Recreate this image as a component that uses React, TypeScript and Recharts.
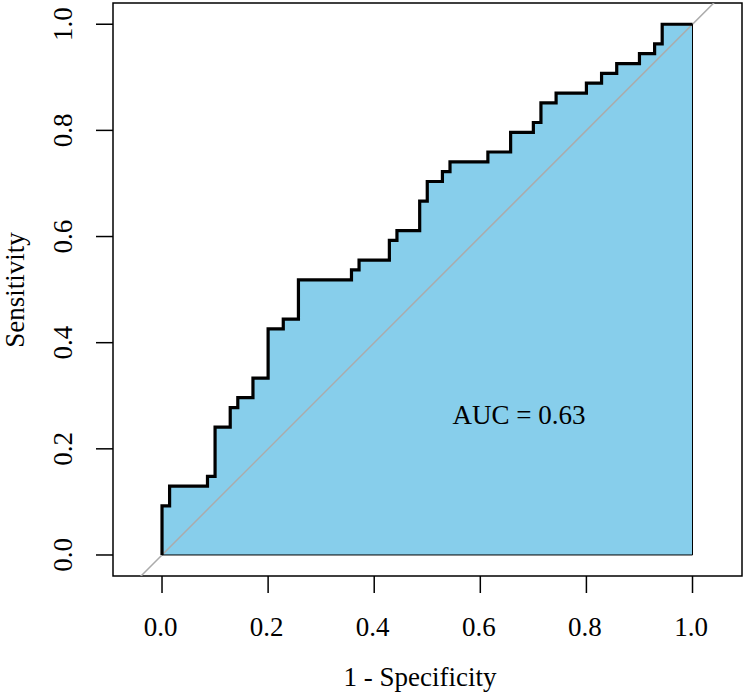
import React from 'react'
import { ComposedChart, Area, Line, XAxis, YAxis, ReferenceLine, ReferenceArea, ReferenceDot } from 'recharts'

// ROC steps, counted in controls (70) and cases (54)
const nControls = 70
const nCases = 54
const fpCount = [0, 0, 1, 6, 7, 9, 10, 12, 14, 16, 18, 25, 26, 30, 31, 34, 35, 37, 38, 43, 46, 49, 50, 52, 56, 58, 60, 63, 65, 66, 70]
const tpCount = [0, 5, 7, 8, 13, 15, 16, 18, 23, 24, 28, 29, 30, 32, 33, 36, 38, 39, 40, 41, 43, 44, 46, 47, 48, 49, 50, 51, 52, 54, 54]

const xTicks = [0, 0.2, 0.4, 0.6, 0.8, 1.0]
const yTicks = [0, 0.2, 0.4, 0.6, 0.8, 1.0]
const xDomain = [-0.0924, 1.0933]
const yDomain = [-0.0396, 1.04]

const aucText = 'AUC = 0.63'
const aucPos = { x: 0.673, y: 0.265 }

const rocData = fpCount.map((fp, i) => ({ fpr: fp / nControls, tpr: tpCount[i] / nCases }))
const last = rocData[rocData.length - 1]
// thin outline of the shaded polygon (right side and bottom)
const borderData = [last, { fpr: last.fpr, tpr: 0 }, rocData[0]]

const FONT = "'Liberation Serif', 'Times New Roman', serif"

const XTick = (props: any) => {
  const { x, payload } = props
  return (
    <text x={x - 1.5} y={636} textAnchor="middle" fontSize={27} fontFamily={FONT} fill="#000">
      {Number(payload.value).toFixed(1)}
    </text>
  )
}

const YTick = (props: any) => {
  const { y, payload } = props
  return (
    <text transform={`translate(72, ${y}) rotate(-90)`} textAnchor="middle" fontSize={27} fontFamily={FONT} fill="#000">
      {Number(payload.value).toFixed(1)}
    </text>
  )
}

const XTitle = () => (
  <text x={420} y={686} textAnchor="middle" fontSize={27} fontFamily={FONT} fill="#000">
    1 - Specificity
  </text>
)

const YTitle = () => (
  <text transform="translate(24, 290) rotate(-90)" textAnchor="middle" fontSize={27} fontFamily={FONT} fill="#000">
    Sensitivity
  </text>
)

export default function App() {
  return (
    <div style={{ position: 'absolute', left: 0, top: 0, width: 744, height: 693, background: '#fff' }}>
      <ComposedChart width={744} height={693} data={rocData} margin={{ top: 3, right: 2, bottom: 0, left: 0 }}>
        <XAxis
          dataKey="fpr"
          type="number"
          domain={xDomain}
          ticks={xTicks}
          interval={0}
          allowDataOverflow
          height={117}
          tickSize={17}
          tickLine={{ stroke: '#000', strokeWidth: 1.5 }}
          axisLine={false}
          tick={(p: any) => <XTick {...p} />}
          label={{ content: () => <XTitle /> }}
        />
        <YAxis
          type="number"
          domain={yDomain}
          ticks={yTicks}
          interval={0}
          allowDataOverflow
          width={113}
          tickSize={17}
          tickLine={{ stroke: '#000', strokeWidth: 1.5 }}
          axisLine={false}
          tick={(p: any) => <YTick {...p} />}
          label={{ content: () => <YTitle /> }}
        />
        <Area
          dataKey="tpr"
          type="stepAfter"
          baseValue={0}
          fill="#87CEEB"
          fillOpacity={1}
          stroke="none"
          isAnimationActive={false}
        />
        <ReferenceLine
          segment={[{ x: xDomain[0], y: xDomain[0] }, { x: xDomain[1], y: xDomain[1] }]}
          ifOverflow="hidden"
          stroke="#ababab"
          strokeWidth={1.5}
        />
        <Line
          data={borderData}
          dataKey="tpr"
          type="linear"
          stroke="#000"
          strokeWidth={1}
          dot={false}
          activeDot={false}
          isAnimationActive={false}
        />
        <Line
          dataKey="tpr"
          type="stepAfter"
          stroke="#000"
          strokeWidth={3.2}
          strokeLinejoin="miter"
          dot={false}
          activeDot={false}
          isAnimationActive={false}
        />
        <ReferenceArea
          x1={xDomain[0]}
          x2={xDomain[1]}
          y1={yDomain[0]}
          y2={yDomain[1]}
          ifOverflow="visible"
          fill="none"
          fillOpacity={0}
          stroke="#000"
          strokeWidth={1.5}
        />
        <ReferenceDot
          x={aucPos.x}
          y={aucPos.y}
          r={0}
          fill="none"
          stroke="none"
          label={{ value: aucText, position: 'center', fontSize: 27, fontFamily: FONT, fill: '#000' }}
        />
      </ComposedChart>
    </div>
  )
}
